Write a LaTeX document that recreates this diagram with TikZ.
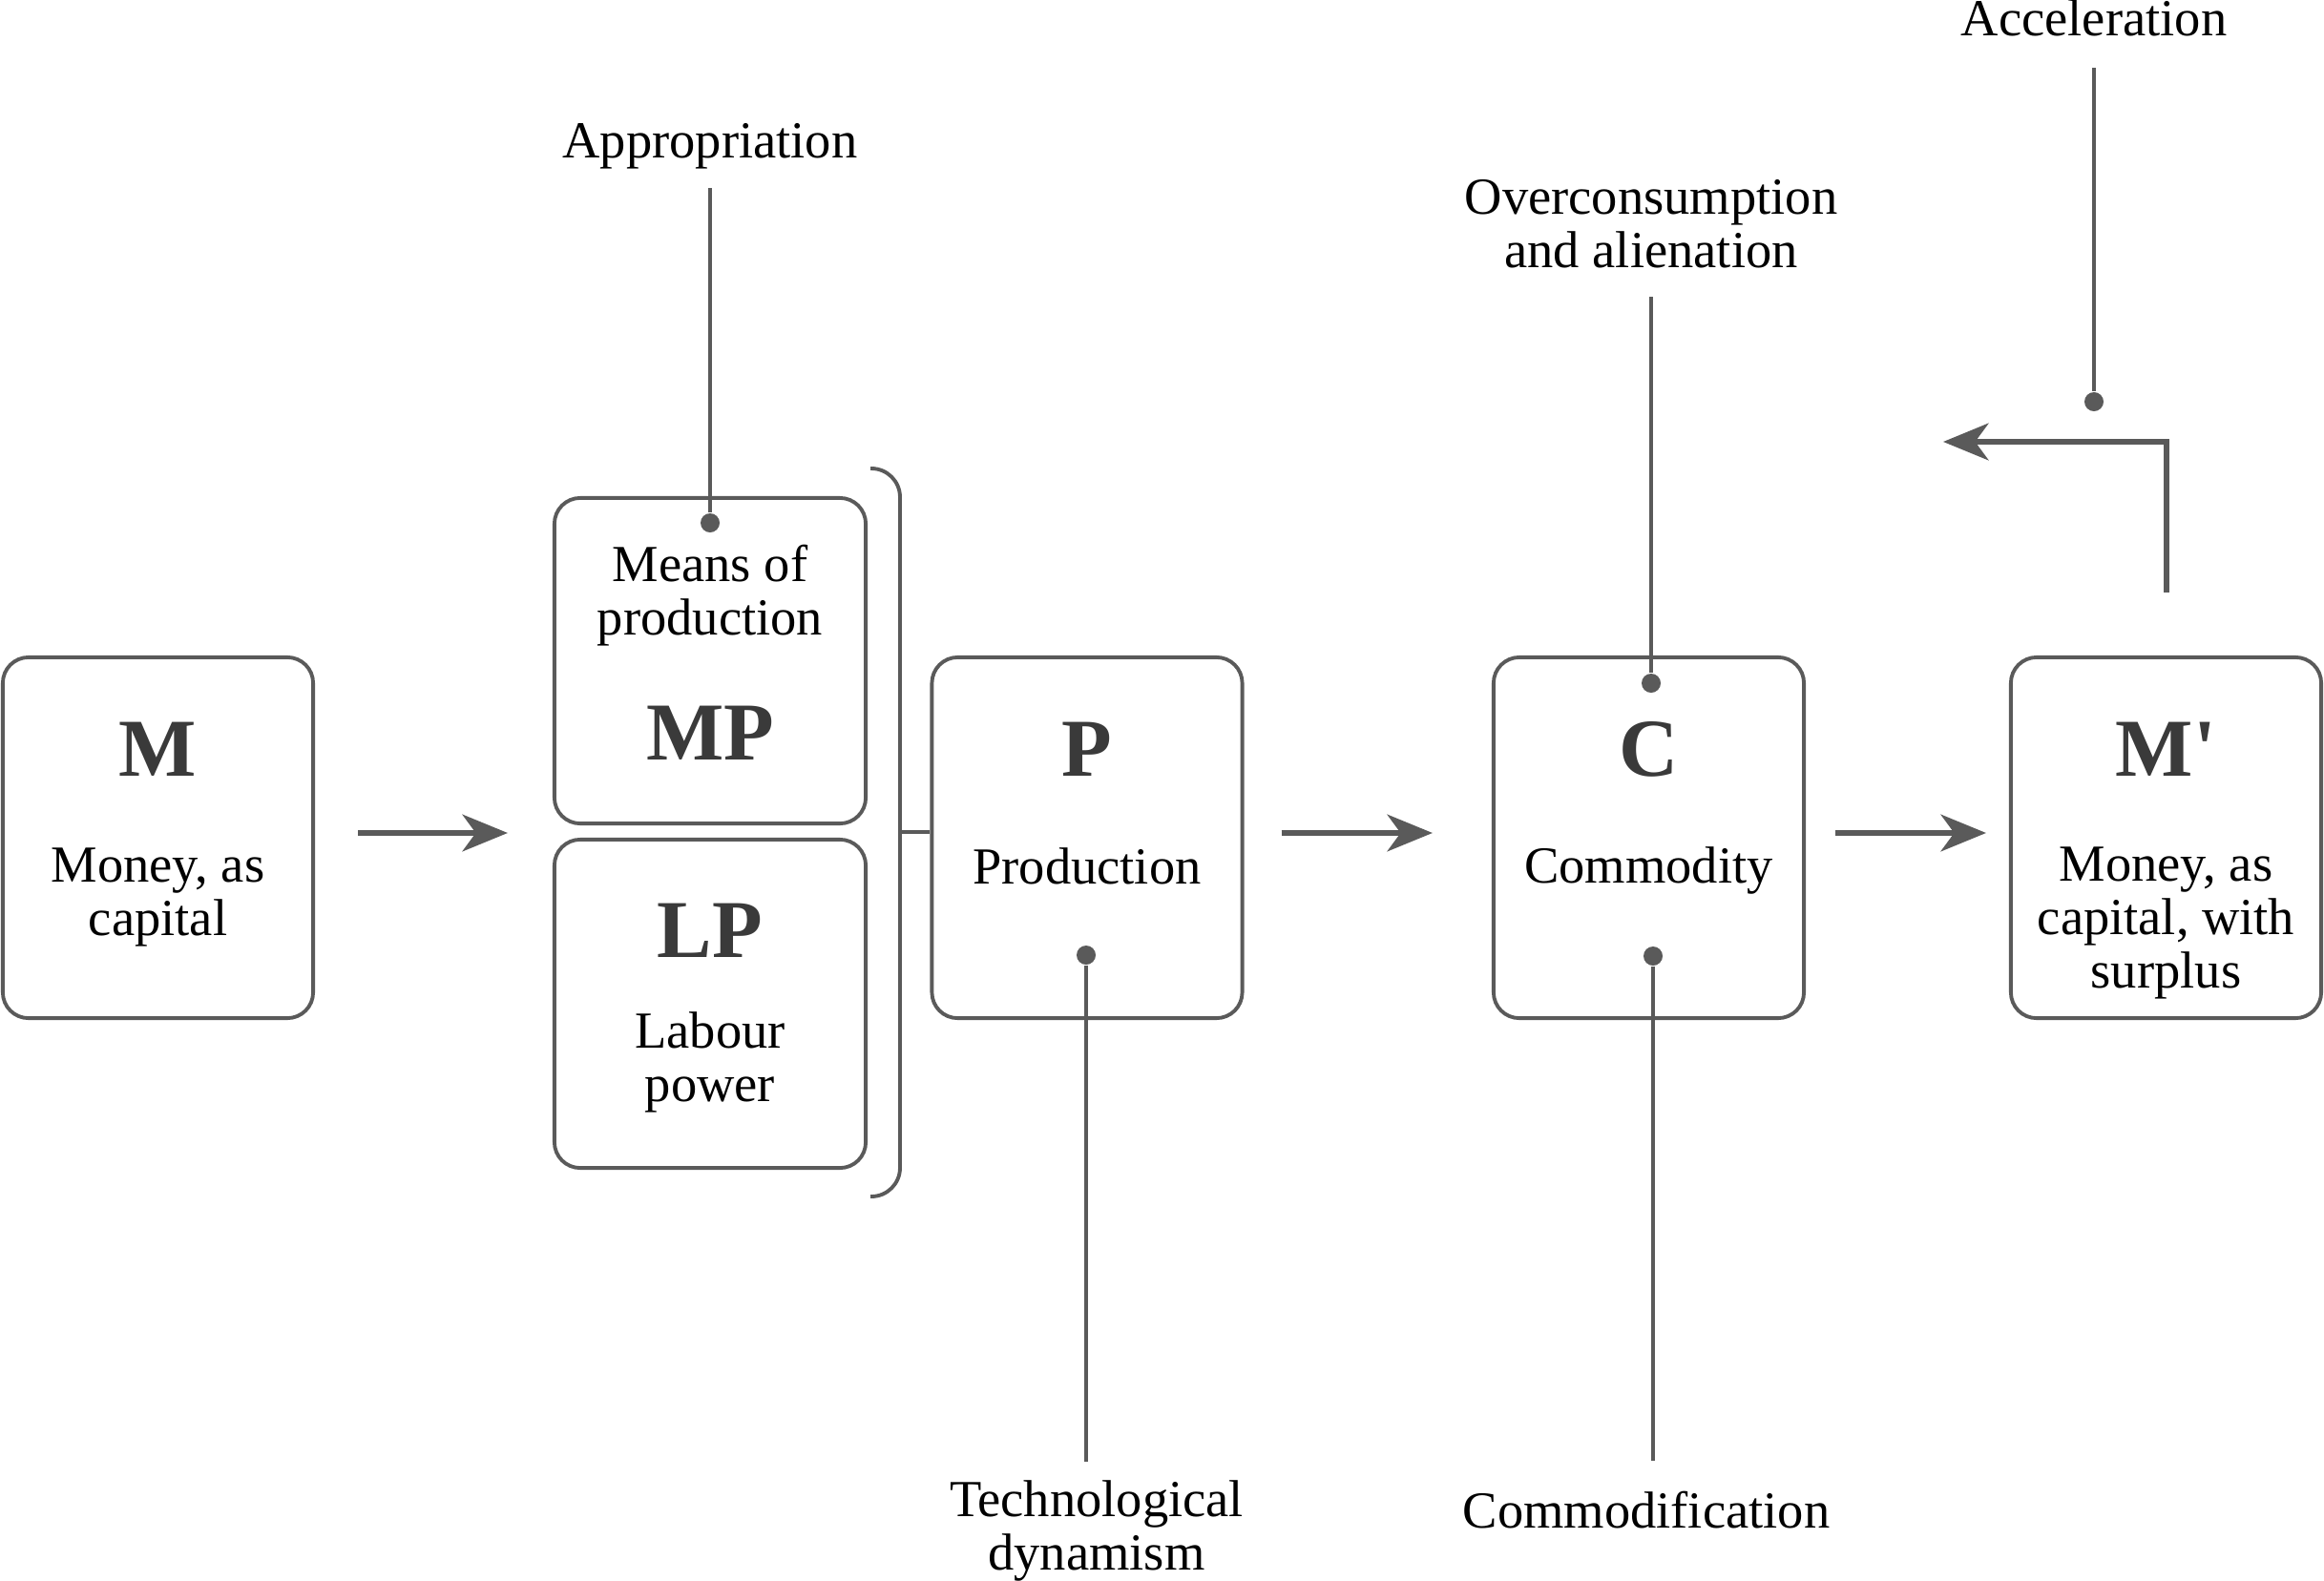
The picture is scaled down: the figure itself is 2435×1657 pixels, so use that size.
\documentclass[tikz,border=0pt]{standalone}
\usepackage{fontspec}
\setmainfont{Liberation Serif}
\usetikzlibrary{arrows.meta}
\definecolor{linegray}{HTML}{5A5A5A}
\definecolor{lettergray}{HTML}{3A3A3A}

\begin{document}
\begin{tikzpicture}[x=0.01cm, y=-0.01cm,
        box/.style={draw=linegray, line width=1.1pt, rounded corners=0.27cm,
            minimum width=3.25cm, minimum height=3.78cm},
        letter/.style={anchor=base, inner sep=0pt, text=lettergray,
            font=\fontsize{24.5}{26}\selectfont\bfseries},
        caption/.style={anchor=base, align=center, inner sep=0pt,
            font=\fontsize{15.5}{15.8}\selectfont},
        dot/.style={circle, fill=linegray, inner sep=0pt, minimum size=0.2cm},
        pin/.style={draw=linegray, line width=1pt},
        arr/.style={draw=linegray, line width=1.5pt,
            -{Stealth[length=13.5pt, width=11pt, inset=4pt]}}]
            \useasboundingbox (0,0) rectangle (2435,1657);
            % the circuit (multi-line captions sit on their last line)
            \node [box] (M) at (165.5,878) {};
            \node [box, minimum width=3.26cm, minimum height=3.41cm] (MP) at (744,692.5) {};
            \node [box, minimum width=3.26cm, minimum height=3.44cm] (LP) at (744,1052) {};
            \node [box] (P) at (1139,878) {};
            \node [box] (C) at (1727.5,878) {};
            \node [box] (Mp) at (2269.5,878) {};
            \node [letter] (Mt) at (165.5,813) {M};
            \node [caption] (Mc) at (165.5,980) {Money, as\\capital};
            \node [caption] (MPc) at (744,665) {Means of\\production};
            \node [letter] (MPt) at (744,796) {MP};
            \node [letter] (LPt) at (744,1003) {LP};
            \node [caption] (LPc) at (744,1154) {Labour\\power};
            \node [letter] (Pt) at (1139,813) {P};
            \node [caption] (Pc) at (1139,926) {Production};
            \node [letter] (Ct) at (1727.5,813) {C};
            \node [caption] (Cc) at (1727.5,925) {Commodity};
            \node [letter] (Mpt) at (2269.5,813) {M\textquotesingle};
            \node [caption] (Mpc) at (2269.5,1035) {Money, as\\capital, with\\surplus};
            % bracket round MP and LP
            \draw [linegray, line width=1.1pt, rounded corners=0.3cm] (912,491) -- (943,491) -- (943,1254) -- (912,1254);
            \coordinate (brk) at (943,872);
            \draw [linegray, line width=1.1pt] (brk) -- (brk -| P.west);
            % arrows
            \draw [arr, shorten <=0.45cm, shorten >=0.47cm] ([yshift=0.05cm]M.east) -- ([yshift=0.05cm]M.east -| MP.west);
            \draw [arr, shorten <=0.39cm, shorten >=0.62cm] ([yshift=0.05cm]P.east) -- ([yshift=0.05cm]C.west);
            \draw [arr, shorten <=0.31cm, shorten >=0.24cm] ([yshift=0.05cm]C.east) -- ([yshift=0.05cm]Mp.west);
            \coordinate (fbtip) at (2036,463);
            \draw [arr, line width=1.7pt, shorten <=0.66cm] (Mp.north) |- (fbtip);
            % pins
            \node [caption] (app) at (744,165) {Appropriation};
            \node [dot] (mpdot) at (744,548) {};
            \draw [pin, shorten <=0.2cm] (app.south) -- (mpdot);
            \node [caption] (over) at (1730,280) {Overconsumption\\and alienation};
            \node [dot] (cdot) at (1730,716) {};
            \draw [pin, shorten <=0.3cm] (over.south -| cdot) -- (cdot);
            \node [caption] (acc) at (2194,37) {Acceleration};
            \node [dot] (accdot) at (2194,421) {};
            \draw [pin, shorten <=0.33cm] (acc.south) -- (accdot);
            \node [dot] (pdot) at (1138,1001) {};
            \node [caption] (tech) at (1149,1645) {Technological\\dynamism};
            \draw [pin, shorten >=0.19cm] (pdot) -- (pdot |- tech.north);
            \node [dot] (cdot2) at (1732,1002) {};
            \node [caption] (comm) at (1725,1601) {Commodification};
            \draw [pin, shorten >=0.31cm] (cdot2) -- (cdot2 |- comm.north);
        \end{tikzpicture}
\end{document}
